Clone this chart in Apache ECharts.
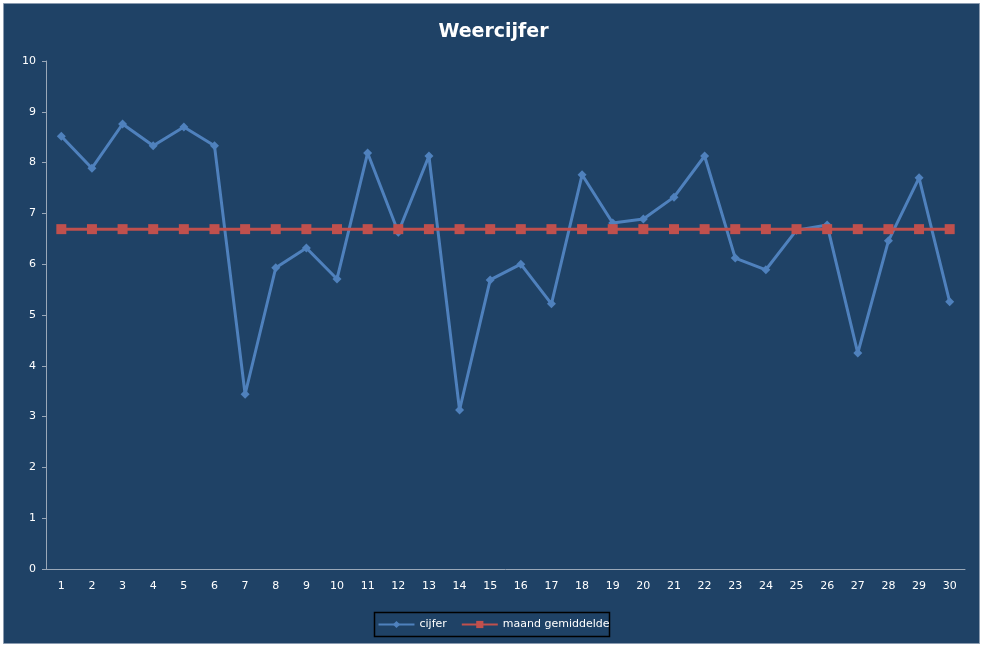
<!DOCTYPE html>
<html><head><meta charset="utf-8">
<script src="https://cdn.jsdelivr.net/npm/echarts@6/dist/echarts.min.js"></script>
<style>html,body{margin:0;padding:0;background:#fff}#c{width:987px;height:648px}</style>
</head><body><div id="c"></div>
<script>
const days = Array.from({length:30},(_,i)=>String(i+1));
const cijfer = [8.52,7.89,8.76,8.33,8.70,8.33,3.44,5.93,6.32,5.71,8.19,6.63,8.13,3.13,5.69,6.00,5.22,7.76,6.81,6.89,7.32,8.13,6.12,5.89,6.67,6.77,4.25,6.46,7.70,5.26];
const gemiddelde = days.map(()=>6.69);
const chart = echarts.init(document.getElementById('c'));
chart.setOption({
  backgroundColor:'#fff',
  graphic:[{type:'rect',shape:{x:3.5,y:3.5,width:976,height:640},style:{fill:'#1F4266',stroke:'#8a9bb0',lineWidth:1},z:-10},
           {type:'rect',shape:{x:374.5,y:612.5,width:235,height:24},style:{fill:'none',stroke:'#000',lineWidth:1.5},z:-5}],
  title:{text:'Weercijfer',left:'center',top:18,textStyle:{color:'#fff',fontSize:19,fontWeight:'bold',fontFamily:'DejaVu Sans'}},
  grid:{left:46,right:22,top:61,bottom:79},
  legend:{bottom:13,left:'center',itemGap:14,itemWidth:36,itemHeight:9,textStyle:{color:'#fff',fontSize:11,fontFamily:'DejaVu Sans'},
    data:['cijfer','maand gemiddelde']},
  xAxis:{type:'category',data:days,boundaryGap:true,
    axisLine:{lineStyle:{color:'#9aa8b8'}},axisTick:{show:false},
    axisLabel:{color:'#fff',fontSize:11,fontFamily:'DejaVu Sans',margin:12}},
  yAxis:{type:'value',min:0,max:10,interval:1,splitLine:{show:false},
    axisLine:{show:true,lineStyle:{color:'#9aa8b8'}},axisTick:{show:true,length:4,lineStyle:{color:'#9aa8b8'}},
    axisLabel:{color:'#fff',fontSize:11,fontFamily:'DejaVu Sans',margin:10}},
  series:[
    {name:'cijfer',type:'line',data:cijfer,symbol:'diamond',symbolSize:9,color:'#4F81BD',lineStyle:{width:3,color:'#4F81BD'},itemStyle:{color:'#4F81BD'}},
    {name:'maand gemiddelde',type:'line',data:gemiddelde,symbol:'rect',symbolSize:10,color:'#C0504D',lineStyle:{width:3,color:'#C0504D'},itemStyle:{color:'#C0504D'}}
  ],
  animation:false
});
</script></body></html>
